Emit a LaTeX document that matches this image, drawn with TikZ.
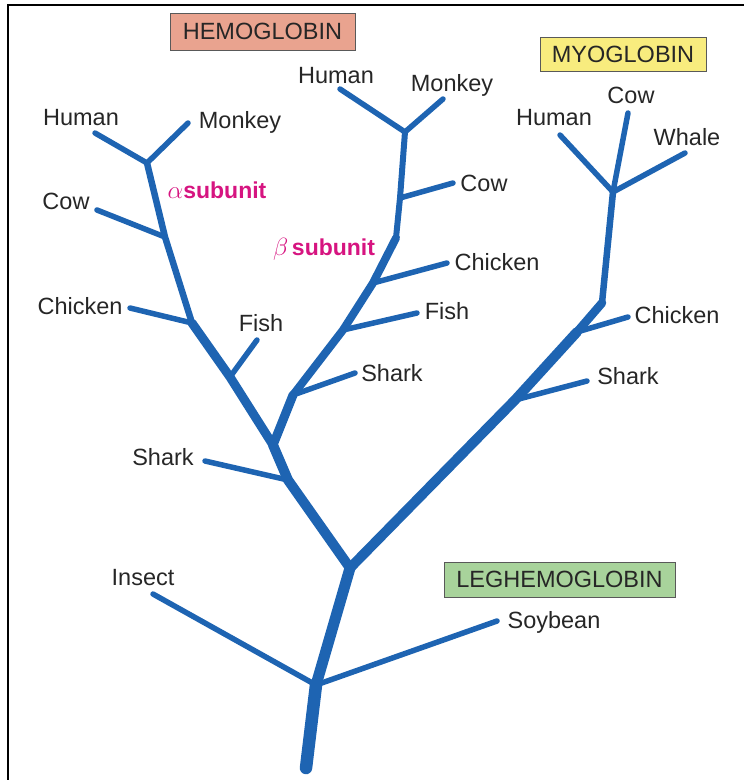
\documentclass[tikz,border=0pt]{standalone}
\usepackage{fontspec}
\setmainfont{Liberation Sans}
\usetikzlibrary{positioning}
\definecolor{branchblue}{RGB}{30,100,178}
\definecolor{subunitpink}{RGB}{214,20,128}
\definecolor{hbfill}{RGB}{233,163,143}
\definecolor{mbfill}{RGB}{248,236,126}
\definecolor{lbfill}{RGB}{168,211,155}
\tikzset{
  twig/.style={branchblue, line width=5.5pt, line cap=round},
  stemline/.style={branchblue, line width=#1, line cap=round, line join=round},
  lbl/.style={inner sep=0pt, text height=16pt, text depth=0pt, text=black!85,
    font=\fontsize{23.5}{28}\selectfont},
  subunitlbl/.style={lbl, text=subunitpink, font=\fontsize{23}{28}\selectfont\bfseries},
  globinbox/.style={lbl, draw=black!65, line width=1pt}
}
\begin{document}
\begin{tikzpicture}[x=1pt,y=-1pt]
\useasboundingbox (0,0) rectangle (744,780);
\draw[line width=2pt] (8,780) -- (8,5) -- (744,5);

\coordinate (base) at (306,768);
\coordinate (root) at (316,685);
\coordinate (split) at (350,568);
\coordinate (hbShark) at (288,480);
\coordinate (abSplit) at (273,445);
\coordinate (aFish) at (230,377);
\coordinate (aChicken) at (192,323);
\coordinate (aCow) at (165,237);
\coordinate (aTop) at (147,163);
\coordinate (bShark) at (293,395);
\coordinate (bFish) at (343,330);
\coordinate (bChicken) at (373,283);
\coordinate (bBend) at (396,238);
\coordinate (bCow) at (400,198);
\coordinate (bTop) at (405,132);
\coordinate (mShark) at (515,400);
\coordinate (mChicken) at (577,332);
\coordinate (mBend) at (602,303);
\coordinate (mTop) at (613,192);

\coordinate (insectEnd) at (153,594);
\coordinate (soyEnd) at (497,621);
\coordinate (aHumanEnd) at (95,133);
\coordinate (aMonkeyEnd) at (188,123);
\coordinate (aCowEnd) at (97,210);
\coordinate (aChickenEnd) at (130,308);
\coordinate (aFishEnd) at (257,340);
\coordinate (hbSharkEnd) at (205,461);
\coordinate (bHumanEnd) at (340,89);
\coordinate (bMonkeyEnd) at (443,99);
\coordinate (bCowEnd) at (453,183);
\coordinate (bChickenEnd) at (447,263);
\coordinate (bFishEnd) at (417,313);
\coordinate (bSharkEnd) at (355,373);
\coordinate (mHumanEnd) at (560,135);
\coordinate (mCowEnd) at (628,113);
\coordinate (mWhaleEnd) at (685,153);
\coordinate (mChickenEnd) at (628,317);
\coordinate (mSharkEnd) at (587,381);

\foreach \a/\b in {root/insectEnd, root/soyEnd, aTop/aHumanEnd, aTop/aMonkeyEnd,
    aCow/aCowEnd, aChicken/aChickenEnd, aFish/aFishEnd, hbShark/hbSharkEnd,
    bTop/bHumanEnd, bTop/bMonkeyEnd, bCow/bCowEnd, bChicken/bChickenEnd,
    bFish/bFishEnd, bShark/bSharkEnd, mTop/mHumanEnd, mTop/mCowEnd,
    mTop/mWhaleEnd, mChicken/mChickenEnd, mShark/mSharkEnd}
  \draw[twig] (\a) -- (\b);

\draw[stemline=6.5pt] (aChicken) -- (aCow) -- (aTop);
\draw[stemline=9pt] (abSplit) -- (aFish) -- (aChicken);
\draw[stemline=10pt] (split) -- (hbShark) -- (abSplit);
\draw[stemline=6pt] (bBend) -- (bCow) -- (bTop);
\draw[stemline=8pt] (bShark) -- (bFish) -- (bChicken) -- (bBend);
\draw[stemline=9pt] (abSplit) -- (bShark);
\draw[stemline=6.5pt] (mBend) -- (mTop);
\draw[stemline=8.5pt] (mChicken) -- (mBend);
\draw[stemline=10pt] (split) -- (mShark) -- (mChicken);
\draw[stemline=11pt] (root) -- (split);
\draw[stemline=12.5pt] (base) -- (root);

\node[globinbox, fill=hbfill, minimum width=185pt, minimum height=37pt] (hemoglobin) at (262.5,31.5) {HEMOGLOBIN};
\node[globinbox, fill=mbfill, minimum width=166pt, minimum height=34pt] (myoglobin) at (623,54) {MYOGLOBIN};
\node[globinbox, fill=lbfill, minimum width=231pt, minimum height=35pt] (leghemoglobin) at (559.5,579.5) {LEGHEMOGLOBIN};

\node[subunitlbl] (alphaSub) at (217,190) {$\alpha$subunit};
\node[subunitlbl] (betaSub) at (324,247) {$\beta$\,subunit};

\node[lbl] (insectLbl) at (143,577) {Insect};
\node[lbl] (soybeanLbl) at (554,620) {Soybean};
\node[lbl] (aHumanLbl) at (81,117) {Human};
\node[lbl] (aMonkeyLbl) at (240,120) {Monkey};
\node[lbl] (aCowLbl) at (66,201) {Cow};
\node[lbl] (aChickenLbl) at (80,306) {Chicken};
\node[lbl] (aFishLbl) at (261,323) {Fish};
\node[lbl] (hbSharkLbl) at (163,457) {Shark};
\node[lbl] (bHumanLbl) at (336,75) {Human};
\node[lbl] (bMonkeyLbl) at (452,83) {Monkey};
\node[lbl] (bCowLbl) at (484,183) {Cow};
\node[lbl] (bChickenLbl) at (497,262) {Chicken};
\node[lbl] (bFishLbl) at (447,311) {Fish};
\node[lbl] (bSharkLbl) at (392,373) {Shark};
\node[lbl] (mHumanLbl) at (554,117) {Human};
\node[lbl] (mCowLbl) at (631,95) {Cow};
\node[lbl] (mWhaleLbl) at (687,137) {Whale};
\node[lbl] (mChickenLbl) at (677,315) {Chicken};
\node[lbl] (mSharkLbl) at (628,376) {Shark};
\end{tikzpicture}
\end{document}
